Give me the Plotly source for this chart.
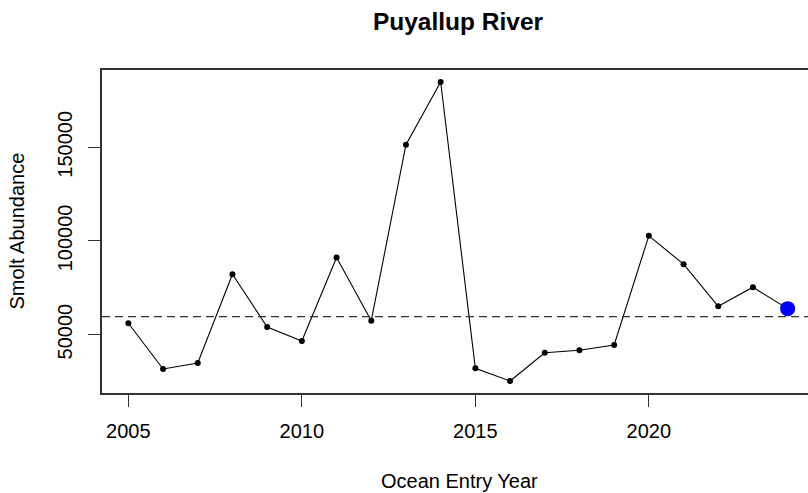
import plotly.graph_objects as go

years = list(range(2005, 2025))
smolt_abundance = [56090, 31680, 34880, 82265, 54113, 46635, 91132, 57479, 151335, 184830,
                   32051, 25267, 40385, 41667, 44498, 102724, 87607, 65171, 75321, 63889]
reference_level = 59600
highlight_year = [2024]
highlight_value = [63889]
x_ticks = [2005, 2010, 2015, 2020]
y_ticks = [50000, 100000, 150000]
y_tick_labels = ["50000", "100000", "150000"]

FONT = "Arial, Liberation Sans, sans-serif"

# R-style 4% axis padding
x_span = max(years) - min(years)
x_lo, x_hi_full = min(years) - 0.04 * x_span, max(years) + 0.04 * x_span
y_span = max(smolt_abundance) - min(smolt_abundance)
y_lo, y_hi = min(smolt_abundance) - 0.04 * y_span, max(smolt_abundance) + 0.04 * y_span

fig = go.Figure()
fig.add_trace(go.Scatter(
    x=years, y=smolt_abundance, mode="lines+markers",
    line=dict(color="black", width=1.1),
    marker=dict(color="black", size=6),
    showlegend=False, hoverinfo="x+y",
))
fig.add_trace(go.Scatter(
    x=highlight_year, y=highlight_value, mode="markers",
    marker=dict(color="#0000FF", size=15),
    showlegend=False,
))
fig.add_hline(y=reference_level, line=dict(color="#333333", width=1.3, dash="8px,5px"))

axis_color = "#333333"
W, H = 808, 493
L, R, T, B = 102, 0, 70, 100
pw, ph = W - L - R, H - T - B
full_pw = 712  # the original plot box extends slightly past the right edge (cropped)
x_hi = x_lo + (x_hi_full - x_lo) * pw / full_pw

fig.update_layout(
    width=W, height=H,
    margin=dict(l=L, r=R, t=T, b=B),
    paper_bgcolor="white", plot_bgcolor="white",
    font=dict(family=FONT, color="black"),
    title=dict(text="Puyallup River", x=(458 - L) / pw, xref="paper", y=1 - 21 / H, yref="container",
               xanchor="center", yanchor="middle",
               font=dict(size=24.5, family=FONT, weight="bold", color="black")),
    xaxis=dict(range=[x_lo, x_hi], tickvals=x_ticks, ticks="outside", ticklen=12,
               tickcolor=axis_color, tickwidth=1.2, showline=True, linecolor=axis_color,
               linewidth=1.5, mirror=True, showgrid=False, zeroline=False,
               tickfont=dict(size=20, family=FONT, color="black"), ticklabelstandoff=7),
    yaxis=dict(range=[y_lo, y_hi], tickvals=y_ticks, ticktext=y_tick_labels, ticks="outside",
               ticklen=12, tickcolor=axis_color, tickwidth=1.2, showline=True,
               linecolor=axis_color, linewidth=1.5, mirror=False, showgrid=False,
               zeroline=False, tickangle=-90,
               tickfont=dict(size=20, family=FONT, color="black"), ticklabelstandoff=8),
    annotations=[
        dict(text="Ocean Entry Year", xref="paper", yref="paper", x=(460 - L) / pw,
             y=-(481 - (T + ph)) / ph,
             xanchor="center", yanchor="middle", showarrow=False,
             font=dict(size=20, family=FONT, color="black")),
        dict(text="Smolt Abundance", xref="paper", yref="paper", x=(16 - L) / pw, y=0.5,
             xanchor="center", yanchor="middle", textangle=-90, showarrow=False,
             font=dict(size=20, family=FONT, color="black")),
    ],
)

fig.write_html("out.html", config={"displayModeBar": False},
               post_script="document.body.style.margin='0';document.body.style.overflow='hidden';")
